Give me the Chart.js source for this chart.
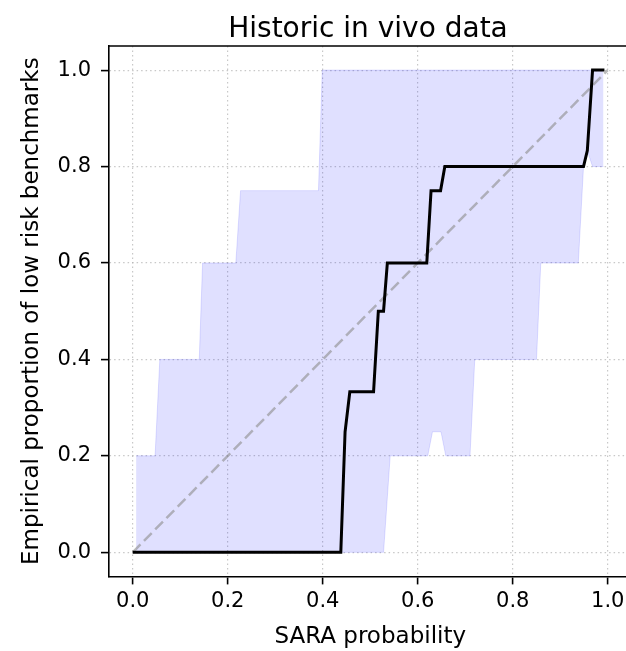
<!DOCTYPE html>
<html lang="en">
<head>
<meta charset="UTF-8">
<title>Historic in vivo data</title>
<script src="https://cdn.jsdelivr.net/npm/chart.js"></script>
<style>
  html, body { margin: 0; padding: 0; background: #fff; overflow: hidden; }
  .wrap { width: 626px; height: 651px; overflow: hidden; }
  canvas { display: block; }
</style>
</head>
<body>
<div class="wrap"><canvas id="chart" width="640" height="651"></canvas></div>
<script>
// calibration curve (SARA probability -> empirical proportion)
const calX = [0.0, 0.438, 0.447, 0.457, 0.507, 0.517, 0.528, 0.536, 0.619, 0.628, 0.648, 0.657, 0.949, 0.957, 0.968, 0.993];
const calY = [0, 0, 0.25, 0.333, 0.333, 0.5, 0.5, 0.6, 0.6, 0.75, 0.75, 0.8, 0.8, 0.833, 1.0, 1.0];

// confidence band
const bandX  = [0.007, 0.047, 0.057, 0.140, 0.147, 0.217, 0.227, 0.391, 0.399, 0.528, 0.542, 0.621, 0.631, 0.649, 0.659, 0.710, 0.720, 0.850, 0.859, 0.938, 0.949, 0.957, 0.968, 0.991];
const bandHi = [0.2, 0.2, 0.4, 0.4, 0.6, 0.6, 0.75, 0.75, 1, 1, 1, 1, 1, 1, 1, 1, 1, 1, 1, 1, 1, 1, 1, 1];
const bandLo = [0, 0, 0, 0, 0, 0, 0, 0, 0, 0, 0.2, 0.2, 0.25, 0.25, 0.2, 0.2, 0.4, 0.4, 0.6, 0.6, 0.8, 0.833, 0.8, 0.8];

// perfect calibration diagonal
const diagX = [0, 1];
const diagY = [0, 1];

const tickVals = [0, 0.2, 0.4, 0.6, 0.8, 1.0];
const titleText = 'Historic in vivo data';
const xLabel = 'SARA probability';
const yLabel = 'Empirical proportion of low risk benchmarks';

const pts = (xs, ys) => xs.map((x, i) => ({x: x, y: ys[i]}));

Chart.defaults.font.family = '"DejaVu Sans", sans-serif';
Chart.defaults.color = '#000';

// title + top spine (no right spine, figure is cut there)
const extras = {
    id: 'extras',
    afterDraw(chart) {
        const ctx = chart.ctx;
        const a = chart.chartArea;
        ctx.save();
        ctx.strokeStyle = '#000';
        ctx.lineWidth = 1.6;
        ctx.beginPath();
        ctx.moveTo(a.left - 0.8, a.top);
        ctx.lineTo(a.right, a.top);
        ctx.stroke();
        ctx.font = '28px "DejaVu Sans"';
        ctx.fillStyle = '#000';
        ctx.textAlign = 'center';
        ctx.textBaseline = 'alphabetic';
        ctx.fillText(titleText, 368, 37);
        ctx.restore();
    }
};

const band = 'rgba(0, 0, 255, 0.12)';

const axisCommon = {
    type: 'linear',
    min: -0.05,
    max: 1.05,
    afterBuildTicks: s => { s.ticks = tickVals.map(v => ({value: v})); },
    grid: {
        color: 'rgba(176, 176, 176, 0.7)',
        lineWidth: 1.2,
        drawTicks: true,
        tickLength: 8,
        tickColor: '#000',
        tickWidth: 1.6,
        tickBorderDash: []
    },
    border: { display: true, color: '#000', width: 1.6, dash: [1.5, 3] }
};

new Chart(document.getElementById('chart'), {
    type: 'line',
    data: {
        datasets: [
            {
                label: 'calibration',
                data: pts(calX, calY),
                borderColor: '#000',
                borderWidth: 3,
                pointRadius: 0,
                fill: false
            },
            {
                label: 'diagonal',
                data: pts(diagX, diagY),
                borderColor: 'rgba(140, 140, 140, 0.6)',
                borderWidth: 2.5,
                borderDash: [11, 5],
                pointRadius: 0,
                fill: false
            },
            {
                label: 'upper',
                data: pts(bandX, bandHi),
                borderColor: band,
                backgroundColor: band,
                borderWidth: 1,
                pointRadius: 0,
                fill: '+1'
            },
            {
                label: 'lower',
                data: pts(bandX, bandLo),
                borderColor: band,
                borderWidth: 1,
                pointRadius: 0,
                fill: false
            }
        ]
    },
    options: {
        responsive: false,
        animation: false,
        layout: { padding: { top: 46, left: 0, right: 8.5, bottom: 0 } },
        plugins: {
            legend: { display: false },
            tooltip: { enabled: false },
            title: { display: false }
        },
        scales: {
            x: Object.assign({}, axisCommon, {
                afterFit: s => { s.height = 74.6; },
                ticks: { font: { size: 21 }, padding: 5, maxRotation: 0, callback: v => v.toFixed(1) },
                title: { display: true, text: xLabel, font: { size: 23 }, padding: { top: 0, bottom: 0 } }
            }),
            y: Object.assign({}, axisCommon, {
                afterFit: s => { s.width = 109; },
                ticks: { font: { size: 21 }, padding: 10, callback: v => v.toFixed(1) },
                title: { display: true, text: yLabel, font: { size: 23 }, padding: { top: 18, bottom: 0 } }
            })
        }
    },
    plugins: [extras]
});
</script>
</body>
</html>
